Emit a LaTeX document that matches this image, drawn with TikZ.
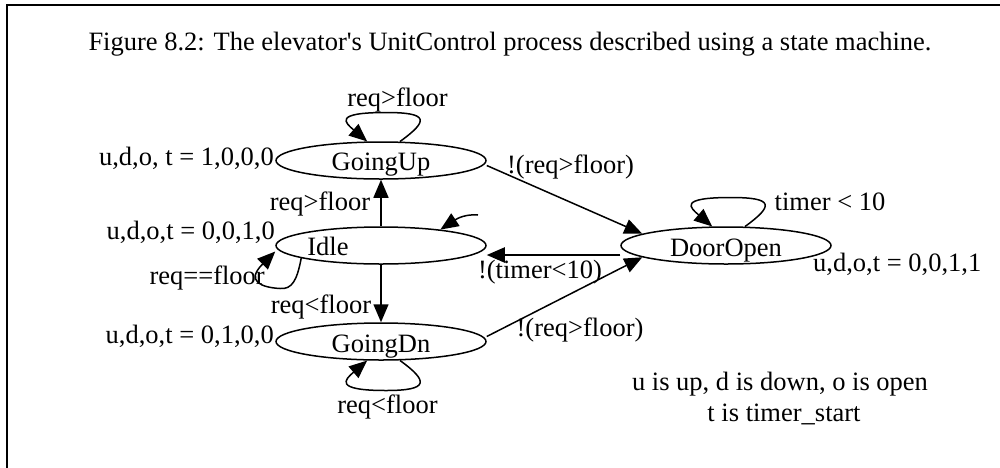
\documentclass[tikz,border=0pt]{standalone}
\usepackage{fontspec}
\setmainfont{Liberation Serif}
\usetikzlibrary{arrows.meta,shapes.geometric,calc}

\begin{document}
\begin{tikzpicture}[x=1pt,y=-1pt,
  every node/.style={font=\fontsize{26.5}{30}\selectfont, inner sep=0pt},
  state/.style={draw, ellipse, line width=1.5pt, minimum width=210pt, minimum height=37pt},
  txt/.style={anchor=base},
  txtr/.style={anchor=base east},
  txtl/.style={anchor=base west},
  arr/.style={line width=1.5pt, -{Triangle[length=18pt,width=15pt]}},
]
\useasboundingbox (0,0) rectangle (1000,467);
\clip (0,0) rectangle (1000,467);

% frame around the figure
\draw[line width=2.2pt] (7,480) -- (7,5) -- (1010,5);

% title
\node[txt] (title) at (510,50) {Figure 8.2: The elevator\textquotesingle s UnitControl process described using a state machine.};

% states
\node[state] (goingup) at (381,160.5) {};
\node[state] (idle)    at (381,245.5) {};
\node[state] (door)    at (726,245.5) {};
\node[state] (goingdn) at (381,341.5) {};

\node[txt] (tgoingup) at (381,170.5) {GoingUp};
\node[txt] (tidle)    at (328,255)   {Idle};
\node[txt] (tdoor)    at (726,256)   {DoorOpen};
\node[txt] (tgoingdn) at (381,352)   {GoingDn};

% outputs of each state
\node[txtr] (oup)   at (274,165) {u,d,o, t = 1,0,0,0};
\node[txtr] (oidle) at (275,239) {u,d,o,t = 0,0,1,0};
\node[txtr] (odn)   at (274,343) {u,d,o,t = 0,1,0,0};
\node[txtl] (odoor) at (813,271) {u,d,o,t = 0,0,1,1};

% transitions between states
\draw[arr] (idle.north) -- (goingup.south);
\draw[arr] (idle.south) -- (goingdn.north);
\draw[arr, line width=2.2pt] ([yshift=-9.5pt]door.west) -- ([yshift=-9.5pt]idle.east);
\draw[arr] ([yshift=-5pt]goingup.east) -- (door.172);
\draw[arr] ([yshift=5pt]goingdn.east) -- (door.188);

% self loops
\draw[arr] (goingup.45)
  .. controls ($(goingup.center)+(48,-40)$) and ($(goingup.center)+(48,-48)$) .. ($(goingup.center)+(5,-48)$)
  .. controls ($(goingup.center)+(-48,-48)$) and ($(goingup.center)+(-36,-38)$) .. (goingup.126);
\draw[arr] (door.45)
  .. controls ($(door.center)+(48,-40)$) and ($(door.center)+(48,-48)$) .. ($(door.center)+(5,-48)$)
  .. controls ($(door.center)+(-48,-48)$) and ($(door.center)+(-36,-38)$) .. (door.126);
\draw[arr] (goingdn.315)
  .. controls ($(goingdn.center)+(48,40)$) and ($(goingdn.center)+(48,49)$) .. ($(goingdn.center)+(5,49)$)
  .. controls ($(goingdn.center)+(-48,49)$) and ($(goingdn.center)+(-36,38)$) .. (goingdn.234);
\draw[arr] (idle.189)
  .. controls ($(idle.center)+(-84,35)$) and ($(idle.center)+(-89,44)$) .. ($(idle.center)+(-101,43)$)
  .. controls ($(idle.center)+(-119,42)$) and ($(idle.center)+(-136,36)$) .. ([yshift=-6pt]idle.west);

% short entry arrow
\coordinate (stub) at (478,215);
\draw[arr] (stub) .. controls (466,214) and (458,218) .. (idle.15);

% transition labels
\node[txt] (l1) at (397.5,106) {req>floor};
\node[txt] (l2) at (320,210)   {req>floor};
\node[txt] (l3) at (321,313)   {req<floor};
\node[txt] (l4) at (387.5,413) {req<floor};
\node[txt] (l5) at (570.5,173) {!(req>floor)};
\node[txt] (l6) at (830,210)   {timer < 10};
\node[txt] (l7) at (540,278)   {!(timer<10)};
\node[txt] (l8) at (580,336)   {!(req>floor)};
\node[txtr] (l9) at (265,284)  {req==floor};

% legend
\node[txt] (n1) at (780,390) {u is up, d is down, o is open};
\node[txt] (n2) at (784,421) {t is timer\_start};
\end{tikzpicture}
\end{document}
